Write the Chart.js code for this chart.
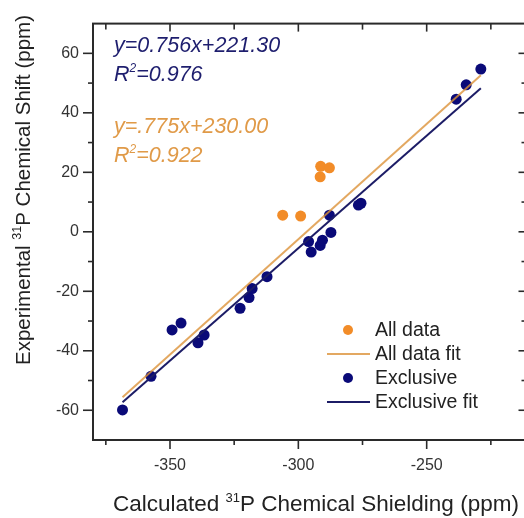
<!DOCTYPE html>
<html>
<head>
<meta charset="utf-8">
<script src="https://cdn.jsdelivr.net/npm/chart.js@4.4.1/dist/chart.umd.min.js"></script>
<style>
  html, body { margin: 0; padding: 0; background: #fff; overflow: hidden; width: 524px; height: 518px; }
  canvas { display: block; }
</style>
</head>
<body>
<canvas id="chart" width="540" height="518"></canvas>
<script>
// Calculated 31P shielding (x) vs experimental 31P shift (y), ppm
const allDataX = [-306.1, -299.1, -291.3, -287.9, -291.5];
const allDataY = [5.6, 5.3, 22.0, 21.5, 18.5];

const exclusiveX = [-368.5, -357.4, -349.2, -345.7, -339.1, -336.7, -322.7, -319.2, -318.0, -312.2,
                    -296.0, -295.0, -291.5, -290.6, -287.3, -287.9, -276.6, -275.6, -238.5, -234.6, -228.9];
const exclusiveY = [-59.9, -48.6, -33.0, -30.7, -37.3, -34.7, -25.7, -22.1, -19.1, -15.1,
                    -3.3, -6.8, -4.6, -2.8, -0.2, 5.6, 9.0, 9.6, 44.6, 49.4, 54.7];

// linear fits: [slope, intercept, R^2]
const allDataFit = [0.775, 230.00, 0.922];
const exclusiveFit = [0.756, 221.30, 0.976];
const allDataFitText = 'y=.775x+230.00';
const exclusiveFitText = 'y=0.756x+221.30';

const seriesNames = ['All data', 'All data fit', 'Exclusive', 'Exclusive fit'];

const xMajorTicks = [-350, -300, -250];
const xMinorTicks = [-375, -325, -275, -225];
const yMajorTicks = [-60, -40, -20, 0, 20, 40, 60];
const yMinorTicks = [-50, -30, -10, 10, 30, 50];

const FONT = "'Liberation Sans', Arial, Helvetica, sans-serif";
const ORANGE = '#f28c28';
const ORANGE_LINE = 'rgba(220,146,58,0.8)';
const ORANGE_TEXT = '#e09a48';
const NAVY = '#0a0a78';
const NAVY_LINE = '#1c1c66';
const NAVY_TEXT = '#1e1e6e';
const AXIS = '#2a2a2a';

Chart.defaults.font.family = FONT;
Chart.defaults.color = '#333';

const toPoints = (xs, ys) => xs.map((v, i) => ({ x: v, y: ys[i] }));
const xs = allDataX.concat(exclusiveX);
const fitStart = Math.min(...xs);
const fitEnd = Math.max(...xs);
const fitLine = f => [fitStart, fitEnd].map(v => ({ x: v, y: f[0] * v + f[1] }));

// draws text runs with optional superscripts, left to right from (x, y) baseline
function drawRuns(ctx, runs, x, y, color) {
  ctx.fillStyle = color;
  ctx.textBaseline = 'alphabetic';
  ctx.textAlign = 'left';
  let cx = x;
  runs.forEach(r => {
    ctx.font = (r.italic ? 'italic ' : '') + r.size + 'px ' + FONT;
    ctx.fillText(r.t, cx, y + (r.dy || 0));
    cx += ctx.measureText(r.t).width;
  });
}

const decor = {
  id: 'decor',
  afterDraw(chart) {
    const { ctx, chartArea: a, scales: { x, y } } = chart;
    ctx.save();

    // frame
    ctx.strokeStyle = AXIS;
    ctx.lineWidth = 2;
    ctx.strokeRect(a.left, a.top, a.right - a.left, a.bottom - a.top);

    // tick marks: outward on bottom/left, inward on top/right
    ctx.lineWidth = 1.6;
    const seg = (x1, y1, x2, y2) => { ctx.beginPath(); ctx.moveTo(x1, y1); ctx.lineTo(x2, y2); ctx.stroke(); };
    xMajorTicks.forEach(v => { const p = x.getPixelForValue(v); seg(p, a.bottom, p, a.bottom + 9); seg(p, a.top, p, a.top + 8); });
    xMinorTicks.forEach(v => { const p = x.getPixelForValue(v); seg(p, a.bottom, p, a.bottom + 5); seg(p, a.top, p, a.top + 6); });
    yMajorTicks.forEach(v => { const p = y.getPixelForValue(v); seg(a.left, p, a.left - 10, p); seg(a.right, p, a.right - 7, p); });
    yMinorTicks.forEach(v => { const p = y.getPixelForValue(v); seg(a.left, p, a.left - 5, p); seg(a.right, p, a.right - 4, p); });

    // axis titles
    drawRuns(ctx, [
      { t: 'Calculated ', size: 22.5 },
      { t: '31', size: 13, dy: -9 },
      { t: 'P Chemical Shielding (ppm)', size: 22.5 }
    ], 113, 511, '#222');

    ctx.save();
    ctx.translate(30, 365);
    ctx.rotate(-Math.PI / 2);
    drawRuns(ctx, [
      { t: 'Experimental ', size: 20.5 },
      { t: '31', size: 12.5, dy: -9 },
      { t: 'P Chemical Shift (ppm)', size: 20.5 }
    ], 0, 0, '#222');
    ctx.restore();

    // fit equations
    const fx = a.left + 21;
    drawRuns(ctx, [{ t: exclusiveFitText, size: 21.5, italic: true }], fx, 52, NAVY_TEXT);
    drawRuns(ctx, [
      { t: 'R', size: 21.5, italic: true },
      { t: '2', size: 12, italic: true, dy: -9 },
      { t: '=' + exclusiveFit[2].toFixed(3), size: 21.5, italic: true }
    ], fx, 81, NAVY_TEXT);
    drawRuns(ctx, [{ t: allDataFitText, size: 21.5, italic: true }], fx, 133, ORANGE_TEXT);
    drawRuns(ctx, [
      { t: 'R', size: 21.5, italic: true },
      { t: '2', size: 12, italic: true, dy: -9 },
      { t: '=' + allDataFit[2].toFixed(3), size: 21.5, italic: true }
    ], fx, 162, ORANGE_TEXT);

    // legend
    const lx = 348, tx = 375, rows = [330, 354, 378, 402];
    const kinds = [
      { dot: ORANGE }, { line: ORANGE_LINE }, { dot: NAVY }, { line: NAVY_LINE }
    ];
    kinds.forEach((k, i) => {
      const ry = rows[i];
      if (k.dot) {
        ctx.fillStyle = k.dot;
        ctx.beginPath(); ctx.arc(lx, ry, 5, 0, Math.PI * 2); ctx.fill();
      } else {
        ctx.strokeStyle = k.line; ctx.lineWidth = 2;
        seg(327, ry, 370, ry);
      }
      ctx.fillStyle = '#222';
      ctx.font = '19.5px ' + FONT;
      ctx.textBaseline = 'middle';
      ctx.textAlign = 'left';
      ctx.fillText(seriesNames[i], tx, ry + 1);
    });

    ctx.restore();
  }
};

new Chart(document.getElementById('chart'), {
  type: 'scatter',
  data: {
    datasets: [
      { label: seriesNames[1], type: 'line', data: fitLine(allDataFit), borderColor: ORANGE_LINE,
        borderWidth: 2, pointRadius: 0, fill: false, tension: 0 },
      { label: seriesNames[3], type: 'line', data: fitLine(exclusiveFit), borderColor: NAVY_LINE,
        borderWidth: 2, pointRadius: 0, fill: false, tension: 0 },
      { label: seriesNames[2], data: toPoints(exclusiveX, exclusiveY), backgroundColor: NAVY,
        borderColor: NAVY, borderWidth: 0, pointRadius: 5.5 },
      { label: seriesNames[0], data: toPoints(allDataX, allDataY), backgroundColor: ORANGE,
        borderColor: ORANGE, borderWidth: 0, pointRadius: 5.5 }
    ]
  },
  options: {
    responsive: false,
    animation: false,
    events: [],
    layout: { padding: { top: 17, left: 0, right: 14.5, bottom: 0 } },
    plugins: { legend: { display: false }, tooltip: { enabled: false } },
    scales: {
      x: {
        type: 'linear', min: -380, max: -211.5,
        grid: { display: false, drawTicks: false },
        border: { display: false },
        afterBuildTicks: s => { s.ticks = xMajorTicks.map(v => ({ value: v })); },
        afterFit: s => { s.height = 78; },
        ticks: { font: { size: 16 }, color: '#333', padding: 16 }
      },
      y: {
        type: 'linear', min: -70, max: 70,
        grid: { display: false, drawTicks: false },
        border: { display: false },
        afterBuildTicks: s => { s.ticks = yMajorTicks.map(v => ({ value: v })); },
        afterFit: s => { s.width = 93; },
        ticks: { font: { size: 16 }, color: '#333', padding: 14 }
      }
    }
  },
  plugins: [decor]
});
</script>
</body>
</html>
